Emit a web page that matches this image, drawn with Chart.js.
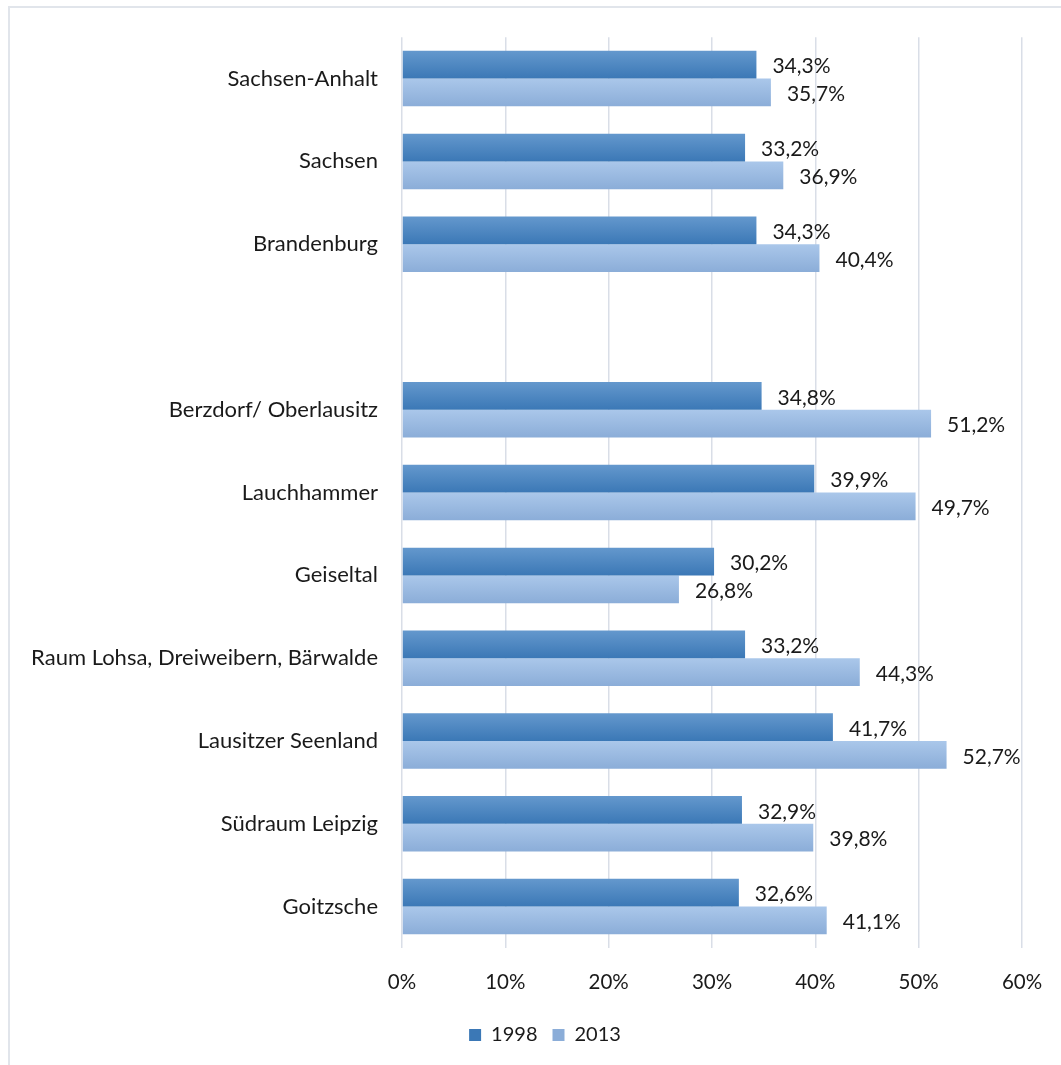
<!DOCTYPE html>
<html lang="de">
<head>
  <meta charset="UTF-8" />
  <title>Anteil 1998 / 2013</title>
  <style>
    html, body {
      margin: 0;
      padding: 0;
      background: #ffffff;
      overflow: hidden;
    }

    .frame {
      position: absolute;
      left: 8px;
      top: 6px;
      width: 1100px;
      height: 1100px;
      border-left: 2px solid #e1e5eb;
      border-top: 2px solid #e1e5eb;
    }

    #chart {
      position: absolute;
      left: 0;
      top: 0;
    }
  </style>
</head>
<body>
  <div class="frame"></div>
  <canvas id="chart" width="1061" height="1065"></canvas>

  <script src="https://cdn.jsdelivr.net/npm/chart.js"></script>
  <script>
    // chart data
    const regions = [
      'Sachsen-Anhalt',
      'Sachsen',
      'Brandenburg',
      '',
      'Berzdorf/ Oberlausitz',
      'Lauchhammer',
      'Geiseltal',
      'Raum Lohsa, Dreiweibern, Bärwalde',
      'Lausitzer Seenland',
      'Südraum Leipzig',
      'Goitzsche'
    ];
    const values1998 = [34.3, 33.2, 34.3, null, 34.8, 39.9, 30.2, 33.2, 41.7, 32.9, 32.6];
    const values2013 = [35.7, 36.9, 40.4, null, 51.2, 49.7, 26.8, 44.3, 52.7, 39.8, 41.1];
    const seriesNames = ['1998', '2013'];
    const xTicks = [0, 10, 20, 30, 40, 50, 60];

    const FONT = 'Lato';
    const TEXT = '#1a1a1a';
    const CAT_PCT = 0.67;

    // gradient per bar, so it looks like the excel bars
    function barFill(top, bottom) {
      return function (c) {
        const chart = c.chart;
        const yScale = chart.scales.y;
        if (!chart.chartArea || !yScale) return bottom;
        const center = yScale.getPixelForValue(c.dataIndex);
        const pitch = yScale.getPixelForValue(1) - yScale.getPixelForValue(0);
        const h = pitch * CAT_PCT / 2;
        const y0 = c.datasetIndex === 0 ? center - h : center;
        const g = chart.ctx.createLinearGradient(0, y0, 0, y0 + h);
        g.addColorStop(0, top);
        g.addColorStop(1, bottom);
        return g;
      };
    }

    const fmt = v => v.toFixed(1).replace('.', ',') + '%';

    // value labels right of each bar
    const valueLabels = {
      id: 'valueLabels',
      afterDatasetsDraw(chart) {
        const ctx = chart.ctx;
        ctx.save();
        ctx.font = '21px ' + FONT;
        ctx.fillStyle = TEXT;
        ctx.textAlign = 'left';
        ctx.textBaseline = 'middle';
        chart.data.datasets.forEach((ds, i) => {
          chart.getDatasetMeta(i).data.forEach((bar, j) => {
            const v = ds.data[j];
            if (v === null) return;
            ctx.fillText(fmt(v), bar.x + 16, bar.y + 2);
          });
        });
        ctx.restore();
      }
    };

    // excel centres the legend a bit further right
    const legendShift = {
      id: 'legendShift',
      afterLayout(chart) {
        if (!chart.legend) return;
        chart.legend.left += 68;
      }
    };

    new Chart(document.getElementById('chart'), {
      type: 'bar',
      data: {
        labels: regions,
        datasets: [
          {
            label: seriesNames[0],
            data: values1998,
            backgroundColor: barFill('#6498cd', '#3b78b6'),
            categoryPercentage: CAT_PCT,
            barPercentage: 1
          },
          {
            label: seriesNames[1],
            data: values2013,
            backgroundColor: barFill('#aac7ea', '#8badd8'),
            categoryPercentage: CAT_PCT,
            barPercentage: 1
          }
        ]
      },
      options: {
        indexAxis: 'y',
        responsive: false,
        animation: false,
        devicePixelRatio: 1,
        layout: {
          padding: { top: 35, right: 39, left: 0, bottom: 10 }
        },
        scales: {
          x: {
            min: 0,
            max: 60,
            afterBuildTicks(scale) {
              scale.ticks = xTicks.map(v => ({ value: v }));
            },
            afterFit(scale) {
              scale.height = 62;
              scale.paddingLeft = 0;
              scale.paddingRight = 0;
            },
            grid: {
              color: '#d9dee7',
              lineWidth: 1.5,
              drawTicks: false
            },
            border: { display: false },
            ticks: {
              padding: 22,
              color: TEXT,
              font: { family: FONT, size: 20.5 },
              callback: v => v + '%'
            }
          },
          y: {
            afterFit(scale) {
              scale.width = 402;
            },
            grid: { display: false, drawTicks: false },
            border: { display: false },
            ticks: {
              padding: 24,
              color: TEXT,
              autoSkip: false,
              font: { family: FONT, size: 22 }
            }
          }
        },
        plugins: {
          legend: {
            position: 'bottom',
            labels: {
              boxWidth: 12,
              boxHeight: 12,
              padding: 15,
              color: TEXT,
              font: { family: FONT, size: 20 }
            }
          },
          tooltip: { enabled: false }
        }
      },
      plugins: [valueLabels, legendShift]
    });
  </script>
</body>
</html>
